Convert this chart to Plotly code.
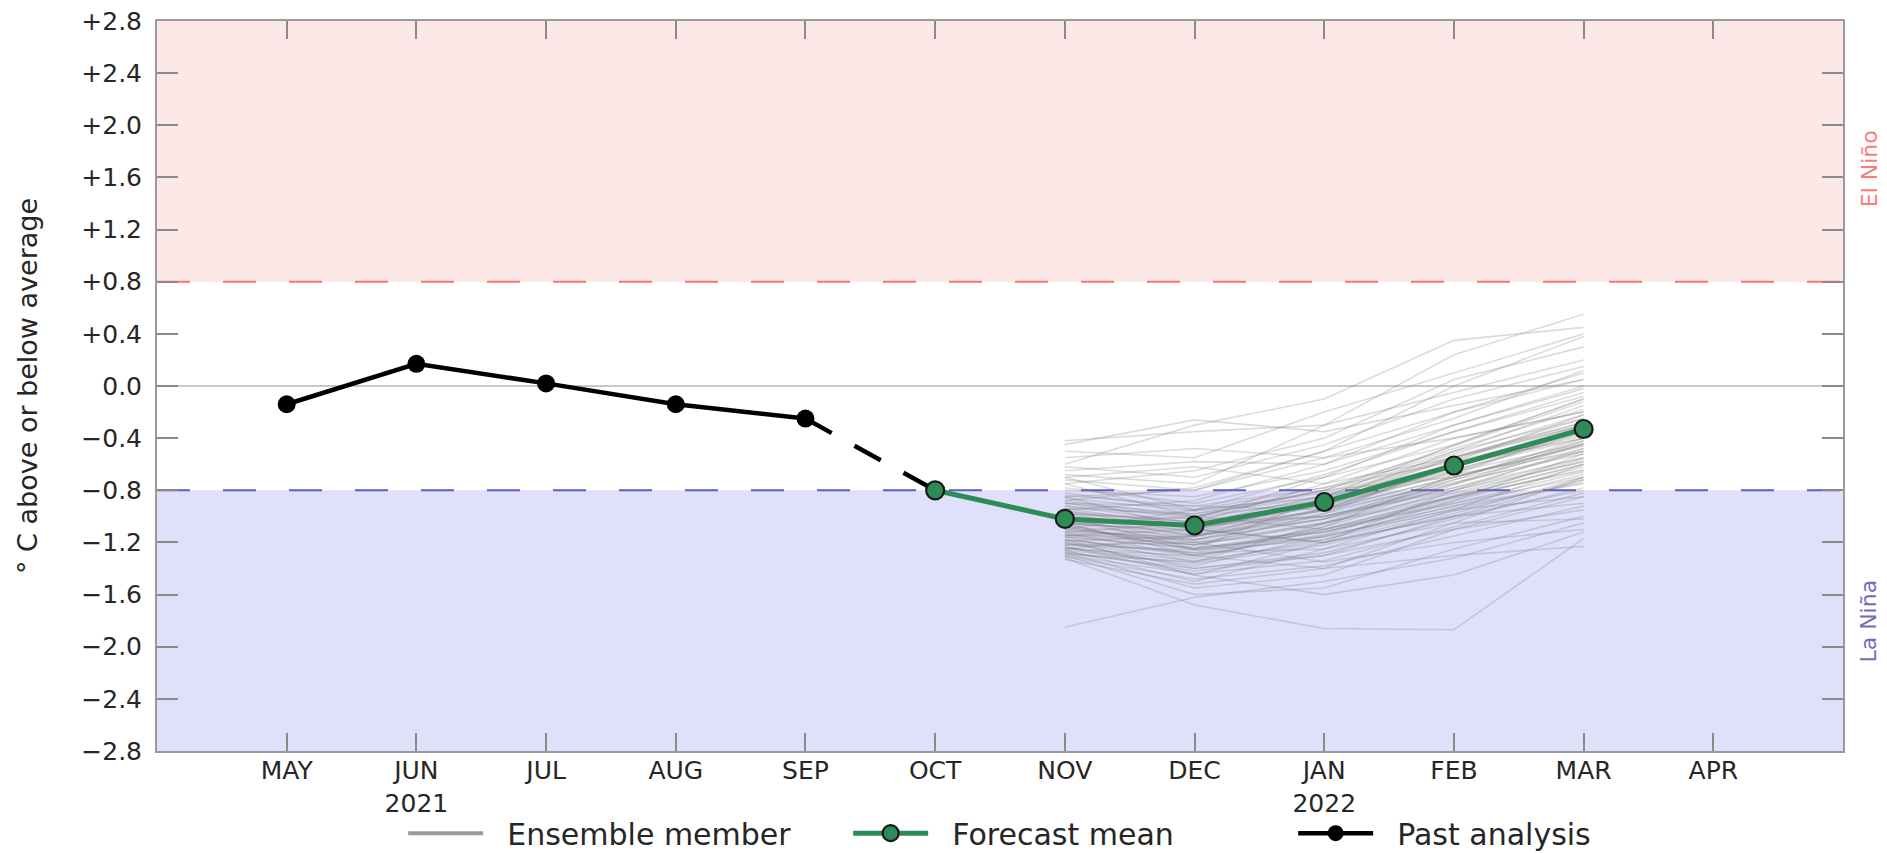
import plotly.graph_objects as go

months = ["MAY", "JUN", "JUL", "AUG", "SEP", "OCT", "NOV", "DEC", "JAN", "FEB", "MAR", "APR"]
month_labels = ["MAY", "JUN<br>2021", "JUL", "AUG", "SEP", "OCT", "NOV", "DEC",
                "JAN<br>2022", "FEB", "MAR", "APR"]

past_months = ["MAY", "JUN", "JUL", "AUG", "SEP"]
past_values = [-0.14, 0.17, 0.02, -0.14, -0.25]

mean_months = ["OCT", "NOV", "DEC", "JAN", "FEB", "MAR"]
mean_values = [-0.80, -1.02, -1.07, -0.89, -0.61, -0.33]

ens_months = ["NOV", "DEC", "JAN", "FEB", "MAR"]
ensemble = [
    [-0.42, -0.35, -0.30, -0.05, 0.20],
    [-0.45, -0.26, -0.35, -0.15, 0.05],
    [-0.50, -0.55, -0.20, 0.10, 0.40],
    [-0.55, -0.48, -0.55, -0.40, -0.20],
    [-0.60, -0.30, -0.10, 0.35, 0.45],
    [-0.62, -0.70, -0.45, -0.10, 0.15],
    [-0.65, -0.58, -0.60, -0.30, 0.00],
    [-0.68, -0.75, -0.30, 0.24, 0.55],
    [-0.70, -0.62, -0.75, -0.55, -0.30],
    [-0.72, -0.80, -0.50, -0.20, 0.10],
    [-0.75, -0.65, -0.40, 0.05, 0.30],
    [-0.78, -0.90, -0.70, -0.45, -0.10],
    [-0.80, -0.85, -0.65, -0.35, -0.05],
    [-0.82, -0.95, -0.85, -0.60, -0.40],
    [-0.85, -0.80, -0.55, -0.25, 0.12],
    [-0.88, -1.00, -0.80, -0.50, -0.15],
    [-0.90, -0.92, -0.95, -0.70, -0.45],
    [-0.92, -1.05, -0.75, -0.40, -0.20],
    [-0.94, -0.98, -0.85, -0.55, -0.25],
    [-0.96, -1.10, -0.90, -0.65, -0.35],
    [-0.98, -1.02, -0.70, -0.30, -0.02],
    [-1.00, -1.15, -1.00, -0.75, -0.50],
    [-1.02, -1.08, -0.92, -0.60, -0.30],
    [-1.04, -1.20, -1.05, -0.85, -0.60],
    [-1.05, -1.12, -0.88, -0.50, -0.25],
    [-1.06, -1.00, -0.80, -0.70, -0.45],
    [-1.08, -1.25, -1.10, -0.90, -0.70],
    [-1.10, -1.18, -0.95, -0.62, -0.38],
    [-1.12, -1.05, -1.00, -0.78, -0.55],
    [-1.13, -1.30, -1.15, -0.95, -0.85],
    [-1.14, -1.22, -0.98, -0.58, -0.22],
    [-1.15, -1.10, -1.20, -1.00, -0.90],
    [-1.16, -1.35, -1.05, -0.72, -0.40],
    [-1.18, -1.28, -1.25, -1.05, -1.02],
    [-1.19, -1.15, -0.90, -0.55, -0.28],
    [-1.20, -1.40, -1.30, -1.10, -0.95],
    [-1.21, -1.32, -1.10, -0.85, -0.65],
    [-1.22, -1.20, -1.35, -1.20, -1.10],
    [-1.23, -1.45, -1.20, -0.80, -0.48],
    [-1.24, -1.38, -1.15, -0.92, -0.75],
    [-1.25, -1.30, -1.40, -1.30, -1.23],
    [-1.26, -1.50, -1.25, -0.95, -0.60],
    [-1.27, -1.42, -1.30, -1.00, -0.80],
    [-1.28, -1.55, -1.45, -1.10, -0.85],
    [-1.29, -1.35, -1.18, -0.88, -0.52],
    [-1.30, -1.60, -1.55, -1.25, -1.00],
    [-1.31, -1.48, -1.38, -1.15, -0.92],
    [-1.32, -1.68, -1.86, -1.87, -1.17],
    [-1.85, -1.62, -1.50, -1.32, -1.05],
    [-1.33, -1.52, -1.40, -1.05, -0.70],
    [-0.85, -1.10, -1.20, -1.00, -0.72],
    [-0.95, -0.88, -0.60, -0.20, 0.05],
    [-1.00, -1.25, -0.85, -0.45, -0.10],
    [-1.10, -0.95, -0.68, -0.35, -0.08],
    [-0.75, -1.00, -1.10, -0.85, -0.60],
    [-1.18, -1.45, -1.60, -1.45, -1.12],
    [-0.88, -0.78, -0.50, 0.00, 0.38],
    [-1.05, -1.30, -1.08, -0.68, -0.32],
    [-1.25, -1.15, -1.02, -0.75, -0.42],
    [-0.70, -0.95, -0.78, -0.48, -0.18],
    [-0.98, -1.12, -0.95, -0.70, -0.42],
    [-1.08, -1.15, -0.98, -0.72, -0.48],
    [-1.12, -1.22, -1.05, -0.82, -0.58],
    [-0.92, -1.00, -0.88, -0.62, -0.35],
    [-1.02, -1.18, -1.02, -0.78, -0.50],
    [-1.15, -1.25, -1.12, -0.88, -0.62],
    [-0.86, -0.96, -0.82, -0.52, -0.22],
    [-1.20, -1.28, -1.08, -0.80, -0.55],
    [-1.06, -1.10, -0.90, -0.64, -0.40],
    [-0.96, -1.05, -0.92, -0.66, -0.44],
    [-1.26, -1.36, -1.22, -0.98, -0.70],
    [-1.10, -1.20, -1.12, -0.90, -0.66],
    [-0.90, -1.02, -0.86, -0.56, -0.30],
    [-1.18, -1.30, -1.14, -0.84, -0.56],
    [-1.00, -1.08, -0.96, -0.74, -0.52],
    [-1.22, -1.26, -1.18, -0.94, -0.74],
    [-1.04, -1.14, -0.94, -0.66, -0.36],
    [-0.94, -1.08, -1.00, -0.80, -0.58],
    [-1.14, -1.18, -1.02, -0.70, -0.46],
    [-1.28, -1.40, -1.28, -1.02, -0.78],
    [-0.84, -0.92, -0.78, -0.58, -0.34],
    [-1.16, -1.24, -1.16, -0.92, -0.68],
    [-1.02, -1.06, -0.84, -0.54, -0.28],
    [-1.30, -1.44, -1.34, -1.08, -0.82],
    [-1.08, -1.22, -1.06, -0.76, -0.44],
    [-0.98, -1.04, -0.90, -0.68, -0.50],
    [-1.12, -1.16, -0.94, -0.62, -0.34],
    [-1.24, -1.34, -1.20, -0.96, -0.72],
    [-0.90, -0.98, -0.80, -0.46, -0.12],
    [-1.06, -1.26, -1.12, -0.86, -0.64],
]

y_ticks = [-2.8, -2.4, -2.0, -1.6, -1.2, -0.8, -0.4, 0.0, 0.4, 0.8, 1.2, 1.6, 2.0, 2.4, 2.8]
el_nino_threshold = 0.8
la_nina_threshold = -0.8
y_min, y_max = -2.8, 2.8


def fmt(v):
    if abs(v) < 1e-9:
        return "0.0"
    return ("+" if v > 0 else "\u2212") + f"{abs(v):.1f}"


def xi(m):
    return months.index(m)


FONT = "DejaVu Sans"
TXT = "#262626"
GAP = "\u00a0\u00a0"
fig = go.Figure()

# ensemble members (one trace with gaps)
ex, ey = [], []
for member in ensemble:
    ex += [xi(m) for m in ens_months] + [None]
    ey += member + [None]
fig.add_trace(go.Scatter(x=ex, y=ey, mode="lines",
                         line=dict(color="rgba(120,120,120,0.26)", width=1.6),
                         showlegend=False, hoverinfo="skip"))

# legend entry for ensemble
fig.add_trace(go.Scatter(x=[None], y=[None], mode="lines", name=GAP + "Ensemble member",
                         line=dict(color="#9a9a9a", width=4), legendrank=1))

# dashed link from last analysis to first forecast
fig.add_trace(go.Scatter(x=[xi(past_months[-1]), xi(mean_months[0])],
                         y=[past_values[-1], mean_values[0]], mode="lines",
                         line=dict(color="black", width=4.5, dash="30px,26px"),
                         showlegend=False, hoverinfo="skip"))

# forecast mean
fig.add_trace(go.Scatter(x=[xi(m) for m in mean_months], y=mean_values,
                         mode="lines+markers", name=GAP + "Forecast mean",
                         line=dict(color="#2e8b57", width=5),
                         marker=dict(size=18, color="#2e8b57",
                                     line=dict(color="#1a1a1a", width=2.2)),
                         legendrank=2))

# past analysis
fig.add_trace(go.Scatter(x=[xi(m) for m in past_months], y=past_values,
                         mode="lines+markers", name=GAP + "Past analysis",
                         line=dict(color="black", width=4.5),
                         marker=dict(size=18, color="black"),
                         legendrank=3))

shapes = [
    dict(type="rect", xref="paper", yref="y", x0=0, x1=1, y0=el_nino_threshold, y1=y_max,
         fillcolor="#fde8e8", line=dict(width=0), layer="below"),
    dict(type="rect", xref="paper", yref="y", x0=0, x1=1, y0=y_min, y1=la_nina_threshold,
         fillcolor="#e0e0fb", line=dict(width=0), layer="below"),
    dict(type="line", xref="paper", yref="y", x0=0, x1=1, y0=0, y1=0,
         line=dict(color="#c8c8c8", width=2), layer="below"),
    dict(type="line", xref="paper", yref="y", x0=0, x1=1, y0=el_nino_threshold, y1=el_nino_threshold,
         line=dict(color="#ff7070", width=2, dash="33px,33px"), layer="below"),
    dict(type="line", xref="paper", yref="y", x0=0, x1=1, y0=la_nina_threshold, y1=la_nina_threshold,
         line=dict(color="#5c5cc8", width=2, dash="33px,33px"), layer="below"),
]

annotations = [
    dict(text="El Niño", xref="paper", yref="y", x=1.0154, y=1.67, showarrow=False,
         textangle=-90, font=dict(family=FONT, size=22, color="#ff7a7a"),
         xanchor="center", yanchor="middle"),
    dict(text="La Niña", xref="paper", yref="y", x=1.0154, y=-1.8, showarrow=False,
         textangle=-90, font=dict(family=FONT, size=22, color="#7070b8"),
         xanchor="center", yanchor="middle"),
    dict(text="\u00b0 C above or below average", xref="paper", yref="paper",
         x=-0.0771, y=0.5, showarrow=False, textangle=-90,
         font=dict(family=FONT, size=27, color=TXT),
         xanchor="center", yanchor="middle"),
]

# page body has an 8px default margin: figure sized so the plot lands where the reference has it
fig.update_layout(
    width=1879, height=846,
    margin=dict(l=149, r=44, t=13, b=103, autoexpand=False),
    paper_bgcolor="white", plot_bgcolor="white",
    font=dict(family=FONT, size=25, color=TXT),
    shapes=shapes, annotations=annotations,
    showlegend=True,
    legend=dict(orientation="h", x=0.146, xanchor="left", y=-0.1125, yanchor="middle",
                font=dict(family=FONT, size=30, color=TXT),
                itemwidth=75, entrywidth=355, entrywidthmode="pixels",
                bgcolor="rgba(0,0,0,0)", traceorder="normal"),
    xaxis=dict(range=[-1, 12], tickmode="array", tickvals=list(range(len(months))),
               ticktext=month_labels, showgrid=False, zeroline=False, automargin=False,
               ticklabelstandoff=-4, ticklabeloverflow="allow",
               ticks="inside", ticklen=18, tickwidth=2, tickcolor="#8a8a8a",
               showline=True, linecolor="#9a9a9a", linewidth=2, mirror="ticks",
               tickfont=dict(family=FONT, size=25, color=TXT)),
    yaxis=dict(range=[y_min, y_max], tickmode="array", tickvals=y_ticks,
               ticktext=[fmt(v) for v in y_ticks], showgrid=False, zeroline=False,
               automargin=False, ticklabelstandoff=8, ticklabeloverflow="allow",
               ticks="inside", ticklen=21, tickwidth=2, tickcolor="#8a8a8a",
               showline=True, linecolor="#9a9a9a", linewidth=2, mirror="ticks",
               tickfont=dict(family=FONT, size=25, color=TXT)),
)

fig.write_html("out.html")
